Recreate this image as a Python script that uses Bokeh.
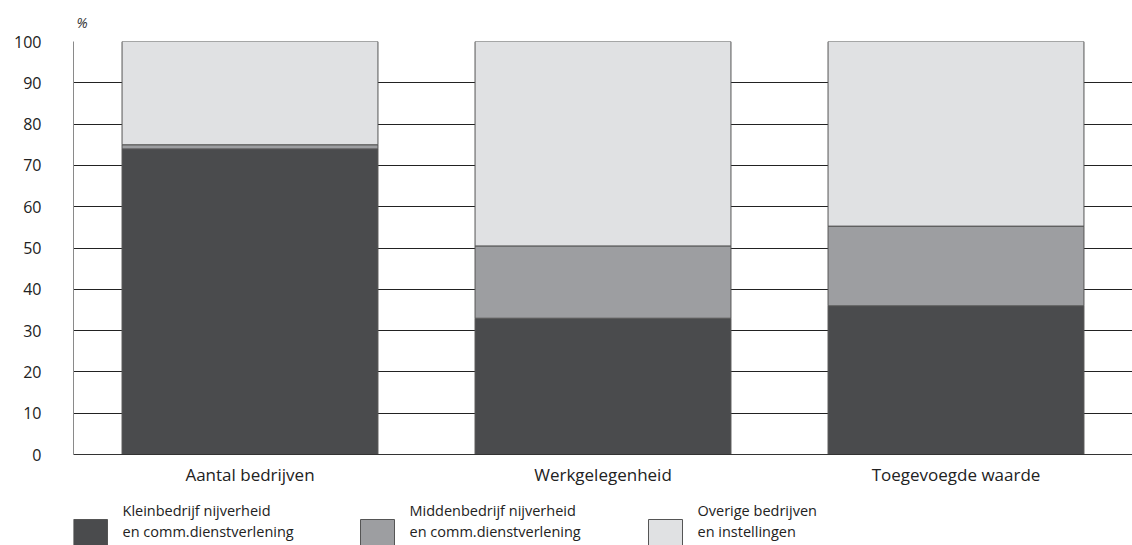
from bokeh.plotting import figure
from bokeh.layouts import column
from bokeh.models import Range1d, SingleIntervalTicker, Title
from bokeh.core.properties import value
from bokeh.embed import file_html
from bokeh.resources import INLINE

categories = ["Aantal bedrijven", "Werkgelegenheid", "Toegevoegde waarde"]
klein = [74.0, 33.0, 36.0]
midden = [1.0, 17.5, 19.3]
overig = [25.0, 49.5, 44.7]
series_line1 = ["Kleinbedrijf nijverheid", "Middenbedrijf nijverheid", "Overige bedrijven"]
series_line2 = ["en comm.dienstverlening", "en comm.dienstverlening", "en instellingen"]
colors = ["#4a4b4d", "#9d9ea1", "#e0e1e3"]

FONT = "Open Sans"
W = 1132
H_MAIN = 488
H_LEG = 57

p = figure(x_range=categories, width=W, height=H_MAIN, output_backend="svg",
           toolbar_location=None, min_border_left=73, min_border_right=0,
           min_border_top=40, min_border_bottom=H_MAIN - 463)
p.x_range.range_padding = 0
p.y_range = Range1d(0, 100)

data = dict(cat=categories, klein=klein, midden=midden, overig=overig)
rs = p.vbar_stack(["klein", "midden", "overig"], x="cat", width=0.725, source=data,
                  fill_color=colors, line_color="#555555", line_width=1)

p.yaxis.ticker = SingleIntervalTicker(interval=10)
p.yaxis.axis_line_color = "#8a8a8a"
p.yaxis.major_tick_line_color = None
p.yaxis.minor_tick_line_color = None
p.yaxis.major_label_standoff = 26
p.yaxis.major_label_text_font = FONT
p.yaxis.major_label_text_font_size = "16px"
p.yaxis.major_label_text_color = "#222222"

p.xaxis.axis_line_color = "#333333"
p.xaxis.major_tick_line_color = None
p.xaxis.minor_tick_line_color = None
p.xaxis.major_label_standoff = 2
p.xaxis.major_label_text_font = FONT
p.xaxis.major_label_text_font_size = "17px"
p.xaxis.major_label_text_color = "#222222"

p.xgrid.grid_line_color = None
p.ygrid.grid_line_color = "#222222"
p.ygrid.grid_line_width = 1
p.outline_line_color = None

t = Title(text="%", align="left", text_font=FONT, text_font_size="14px",
          text_font_style="italic", text_color="#333333", offset=3, standoff=20)
p.add_layout(t, "above")

# legend strip (data units equal page pixels)
leg = figure(width=W, height=H_LEG, output_backend="svg", toolbar_location=None,
             x_range=Range1d(73, W), y_range=Range1d(545, 545 - H_LEG),
             min_border_left=73, min_border_right=0,
             min_border_top=0, min_border_bottom=0)
leg.axis.visible = False
leg.grid.visible = False
leg.outline_line_color = None

box_left = [73, 360, 648]
box_w = 34
text_x = [b + 49 for b in box_left]
leg.quad(left=box_left, right=[b + box_w for b in box_left], top=519, bottom=552,
         fill_color=colors, line_color="#555555", line_width=1)
leg.text(x=text_x, y=[510] * 3, text=series_line1, text_font=value(FONT),
         text_font_size="14.5px", text_baseline="alphabetic", text_color="#222222")
leg.text(x=text_x, y=[531] * 3, text=series_line2, text_font=value(FONT),
         text_font_size="14.5px", text_baseline="alphabetic", text_color="#222222")

layout = column(p, leg, spacing=0)
open("out.html", "w").write(file_html(layout, INLINE))
